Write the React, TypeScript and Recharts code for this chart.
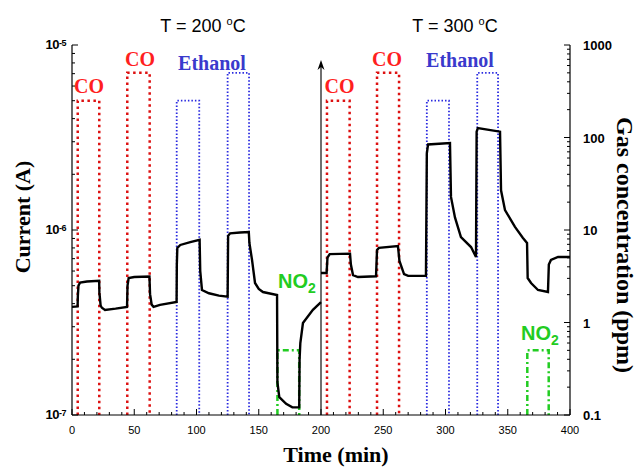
import { LineChart, Line, XAxis, YAxis, ReferenceLine } from 'recharts'

// time axis (min)
const timeMajorTicks = [0, 50, 100, 150, 200, 250, 300, 350, 400]
const timeMinorStep = 10
// current axis (A), log
const currentMajorTicks = [1e-7, 1e-6, 1e-5]
// gas concentration axis (ppm), log
const gasMajorTicks = [0.1, 1, 10, 100, 1000]

// sensor current at T = 200 C
const current200 = [
  { t: 0, i: 3.84e-7 }, { t: 4.5, i: 3.86e-7 }, { t: 4.7, i: 4.4e-7 }, { t: 5.2, i: 5.0e-7 },
  { t: 6.5, i: 5.2e-7 }, { t: 12, i: 5.27e-7 }, { t: 21.8, i: 5.32e-7 }, { t: 22, i: 4.6e-7 },
  { t: 23, i: 3.9e-7 }, { t: 24, i: 3.8e-7 }, { t: 26.5, i: 3.7e-7 }, { t: 35, i: 3.76e-7 },
  { t: 44.2, i: 3.84e-7 }, { t: 44.6, i: 5.0e-7 }, { t: 45.5, i: 5.5e-7 }, { t: 50, i: 5.57e-7 },
  { t: 62.2, i: 5.6e-7 }, { t: 62.7, i: 4.5e-7 }, { t: 64, i: 3.95e-7 }, { t: 65.5, i: 3.84e-7 },
  { t: 70.7, i: 3.94e-7 }, { t: 84, i: 4.08e-7 }, { t: 84.2, i: 6.5e-7 }, { t: 84.6, i: 8.0e-7 },
  { t: 87, i: 8.3e-7 }, { t: 95, i: 8.6e-7 }, { t: 102.5, i: 8.85e-7 }, { t: 103, i: 6.0e-7 },
  { t: 104.4, i: 4.74e-7 }, { t: 110, i: 4.55e-7 }, { t: 118, i: 4.42e-7 }, { t: 125, i: 4.36e-7 },
  { t: 125.4, i: 9.3e-7 }, { t: 127, i: 9.6e-7 }, { t: 135, i: 9.7e-7 }, { t: 142, i: 9.75e-7 },
  { t: 142.5, i: 8.5e-7 }, { t: 144.6, i: 6.89e-7 }, { t: 147, i: 5.17e-7 }, { t: 150, i: 4.8e-7 },
  { t: 153.4, i: 4.62e-7 }, { t: 158, i: 4.55e-7 }, { t: 164.7, i: 4.45e-7 }, { t: 165, i: 1.5e-7 },
  { t: 166.5, i: 1.25e-7 }, { t: 172, i: 1.15e-7 }, { t: 177, i: 1.1e-7 }, { t: 182.5, i: 1.1e-7 },
  { t: 182.8, i: 2.0e-7 }, { t: 183.4, i: 2.45e-7 }, { t: 185.5, i: 3.14e-7 }, { t: 193.5, i: 3.7e-7 },
  { t: 200, i: 4.08e-7 },
]

// sensor current at T = 300 C
const current300 = [
  { t: 200, i: 5.86e-7 }, { t: 204.5, i: 5.86e-7 }, { t: 205.2, i: 7.1e-7 }, { t: 207, i: 7.41e-7 },
  { t: 223.3, i: 7.45e-7 }, { t: 224, i: 6.5e-7 }, { t: 225.7, i: 5.71e-7 }, { t: 229.7, i: 5.57e-7 },
  { t: 244.2, i: 5.62e-7 }, { t: 245, i: 7.8e-7 }, { t: 246.5, i: 8.0e-7 }, { t: 261.8, i: 8.2e-7 },
  { t: 263, i: 6.8e-7 }, { t: 266.7, i: 5.78e-7 }, { t: 270, i: 5.65e-7 }, { t: 284.3, i: 5.65e-7 },
  { t: 285, i: 2.6e-6 }, { t: 286, i: 2.9e-6 }, { t: 303.6, i: 2.95e-6 }, { t: 304.4, i: 1.51e-6 },
  { t: 307.6, i: 1.17e-6 }, { t: 312.4, i: 9.16e-7 }, { t: 320.5, i: 8.09e-7 }, { t: 324.5, i: 7.15e-7 },
  { t: 325, i: 3.4e-6 }, { t: 326, i: 3.56e-6 }, { t: 343.8, i: 3.4e-6 }, { t: 344.6, i: 1.64e-6 },
  { t: 347.8, i: 1.28e-6 }, { t: 355.8, i: 1.04e-6 }, { t: 362.2, i: 9.06e-7 }, { t: 365.5, i: 8.51e-7 },
  { t: 366, i: 5.5e-7 }, { t: 368.7, i: 5.17e-7 }, { t: 374.3, i: 4.74e-7 }, { t: 382.3, i: 4.62e-7 },
  { t: 383, i: 6.5e-7 }, { t: 384.7, i: 6.89e-7 }, { t: 390.4, i: 7.15e-7 }, { t: 400, i: 7.15e-7 },
]

// gas pulses: [start (min), end (min), concentration (ppm)]
const coPulses = [[4.6, 21.9, 250], [44.4, 62.4, 500], [204.8, 223, 250], [245, 262.7, 500]]
const ethanolPulses = [[84.1, 102.2, 250], [125, 142.2, 500], [285, 302.8, 250], [325.5, 342.2, 500]]
const no2Pulses = [[165, 182.5, 0.5], [365.7, 382.9, 0.5]]
const gasBase = 0.1

// divider arrow between the two temperatures
const arrowAt = 200
const arrowFrom = 1e-7
const arrowTo = 8.3e-6

function pulsePoints(pulses: number[][]) {
  const pts: { t: number; c: number | null }[] = []
  pulses.forEach(([a, b, c]) => {
    pts.push({ t: a, c: gasBase }, { t: a, c }, { t: b, c }, { t: b, c: gasBase }, { t: b, c: null })
  })
  return pts
}

function logMinor(majors: number[]) {
  const out: number[] = []
  majors.forEach((m, k) => {
    out.push(m)
    if (k < majors.length - 1) for (let j = 2; j < 10; j++) out.push(m * j)
  })
  return out
}

const timeTicks: number[] = []
for (let v = 0; v <= 400; v += timeMinorStep) timeTicks.push(v)

const isMajorLog = (v: number) => Math.abs(Math.log10(v) - Math.round(Math.log10(v))) < 1e-6

const sans = 'Liberation Sans, Arial, sans-serif'
const serif = 'Liberation Serif, Times New Roman, serif'

function TimeTick(props: any) {
  const { x, y, payload, top } = props
  const major = timeMajorTicks.includes(payload.value)
  const len = major ? 6 : 3
  const dir = top ? 1 : -1
  return (
    <g>
      <line x1={x} x2={x} y1={y} y2={y + dir * len} stroke="#000" strokeWidth={1} />
      {!top && major && (
        <text x={x} y={y + 19} textAnchor="middle" fontFamily={sans} fontSize={11} fill="#000">
          {payload.value}
        </text>
      )}
    </g>
  )
}

function CurrentTick(props: any) {
  const { x, y, payload } = props
  const major = isMajorLog(payload.value)
  const len = major ? 6 : 3
  const exp = Math.round(Math.log10(payload.value))
  return (
    <g>
      <line x1={x} x2={x + len} y1={y} y2={y} stroke="#000" strokeWidth={1} />
      {major && (
        <text x={x - 6} y={y + 4} textAnchor="end" fontFamily={sans} fontWeight="bold" fill="#000" letterSpacing={-0.5}>
          <tspan fontSize={13}>10</tspan>
          <tspan fontSize={9} dy={-3}>{exp}</tspan>
        </text>
      )}
    </g>
  )
}

function GasTick(props: any) {
  const { x, y, payload } = props
  const major = isMajorLog(payload.value)
  const len = major ? 6 : 3
  return (
    <g>
      <line x1={x} x2={x - len} y1={y} y2={y} stroke="#000" strokeWidth={1} />
      {major && (
        <text x={x + 13} y={y + 5} textAnchor="start" fontFamily={sans} fontWeight="bold" fontSize={13} fill="#000">
          {payload.value}
        </text>
      )}
    </g>
  )
}

function Arrow(props: any) {
  const { x1, y1, x2, y2 } = props
  const top = Math.min(y1, y2)
  const bottom = Math.max(y1, y2)
  const x = (x1 + x2) / 2
  return (
    <g>
      <line x1={x} x2={x} y1={bottom} y2={top + 4} stroke="#222" strokeWidth={1.3} />
      <path d={`M${x - 3.5},${top + 10} L${x},${top} L${x + 3.5},${top + 10} L${x},${top + 7} Z`} fill="#000" />
    </g>
  )
}

export default function App() {
  return (
    <div style={{ position: 'absolute', left: 0, top: 0, width: 638, height: 468, background: '#fff' }}>
      <LineChart width={638} height={468} margin={{ top: 45, right: 18, bottom: 23, left: 0 }}>
        <XAxis
          type="number"
          dataKey="t"
          domain={[0, 400]}
          allowDataOverflow
          ticks={timeTicks}
          interval={0}
          tickSize={0}
          tickMargin={0}
          tickLine={false}
          height={30}
          axisLine={{ stroke: '#000', strokeWidth: 1.2 }}
          tick={(p: any) => <TimeTick {...p} />}
        />
        <XAxis
          xAxisId="top"
          orientation="top"
          type="number"
          dataKey="t"
          domain={[0, 400]}
          allowDataOverflow
          ticks={timeTicks}
          interval={0}
          tickSize={0}
          tickMargin={0}
          tickLine={false}
          height={0}
          axisLine={{ stroke: '#000', strokeWidth: 1.2 }}
          tick={(p: any) => <TimeTick {...p} top />}
        />
        <YAxis
          yAxisId="cur"
          type="number"
          scale="log"
          domain={[1e-7, 1e-5]}
          allowDataOverflow
          ticks={logMinor(currentMajorTicks)}
          interval={0}
          tickSize={0}
          tickMargin={0}
          tickLine={false}
          width={72}
          axisLine={{ stroke: '#000', strokeWidth: 1.2 }}
          tick={(p: any) => <CurrentTick {...p} />}
        />
        <YAxis
          yAxisId="gas"
          orientation="right"
          type="number"
          scale="log"
          domain={[0.1, 1000]}
          allowDataOverflow
          ticks={logMinor(gasMajorTicks)}
          interval={0}
          tickSize={0}
          tickMargin={0}
          tickLine={false}
          width={50}
          axisLine={{ stroke: '#000', strokeWidth: 1.2 }}
          tick={(p: any) => <GasTick {...p} />}
        />
        <Line yAxisId="gas" data={pulsePoints(coPulses)} dataKey="c" type="linear" stroke="#dd1111" strokeWidth={2.5} strokeDasharray="2.5 3.5" dot={false} isAnimationActive={false} />
        <Line yAxisId="gas" data={pulsePoints(ethanolPulses)} dataKey="c" type="linear" stroke="#2a2ae0" strokeWidth={1.8} strokeDasharray="1.5 2" dot={false} isAnimationActive={false} />
        <Line yAxisId="gas" data={pulsePoints(no2Pulses)} dataKey="c" type="linear" stroke="#22cc22" strokeWidth={2.5} strokeDasharray="6 3 2 3" dot={false} isAnimationActive={false} />
        <ReferenceLine
          yAxisId="cur"
          segment={[{ x: arrowAt, y: arrowFrom }, { x: arrowAt, y: arrowTo }]}
          shape={(p: any) => <Arrow {...p} />}
        />
        <Line yAxisId="cur" data={current200} dataKey="i" type="linear" stroke="#000" strokeWidth={2.4} dot={false} isAnimationActive={false} />
        <Line yAxisId="cur" data={current300} dataKey="i" type="linear" stroke="#000" strokeWidth={2.4} dot={false} isAnimationActive={false} />
      </LineChart>
      <svg width={638} height={468} style={{ position: 'absolute', left: 0, top: 0, pointerEvents: 'none' }}>
        <text x={203} y={32} textAnchor="middle" fontFamily={sans} fontSize={18} fill="#000">
          T = 200 <tspan fontSize={11} dy={-7}>o</tspan><tspan dy={7}>C</tspan>
        </text>
        <text x={455} y={32} textAnchor="middle" fontFamily={sans} fontSize={18} fill="#000">
          T = 300 <tspan fontSize={11} dy={-7}>o</tspan><tspan dy={7}>C</tspan>
        </text>
        <text transform="translate(30,217) rotate(-90)" textAnchor="middle" fontFamily={serif} fontWeight="bold" fontSize={22} fill="#000">
          Current (A)
        </text>
        <text transform="translate(617,117) rotate(90)" textAnchor="start" fontFamily={serif} fontWeight="bold" fontSize={24} fill="#000">
          Gas concentration (ppm)
        </text>
        <text x={336} y={462} textAnchor="middle" fontFamily={serif} fontWeight="bold" fontSize={22} fill="#000">
          Time (min)
        </text>
        <g fontFamily={serif} fontWeight="bold" fontSize={20} textAnchor="middle">
          <text x={89} y={93} fill="#ff1f1f">CO</text>
          <text x={140} y={66} fill="#ff1f1f">CO</text>
          <text x={339.5} y={93} fill="#ff1f1f">CO</text>
          <text x={387} y={66} fill="#ff1f1f">CO</text>
          <text x={212} y={70} fill="#3a3acc">Ethanol</text>
          <text x={460} y={67} fill="#3a3acc">Ethanol</text>
        </g>
        <g fontFamily={sans} fontWeight="bold" fontSize={20} fill="#22cc22">
          <text x={278} y={288}>NO<tspan fontSize={14} dy={5}>2</tspan></text>
          <text x={521} y={340}>NO<tspan fontSize={14} dy={5}>2</tspan></text>
        </g>
      </svg>
    </div>
  )
}
